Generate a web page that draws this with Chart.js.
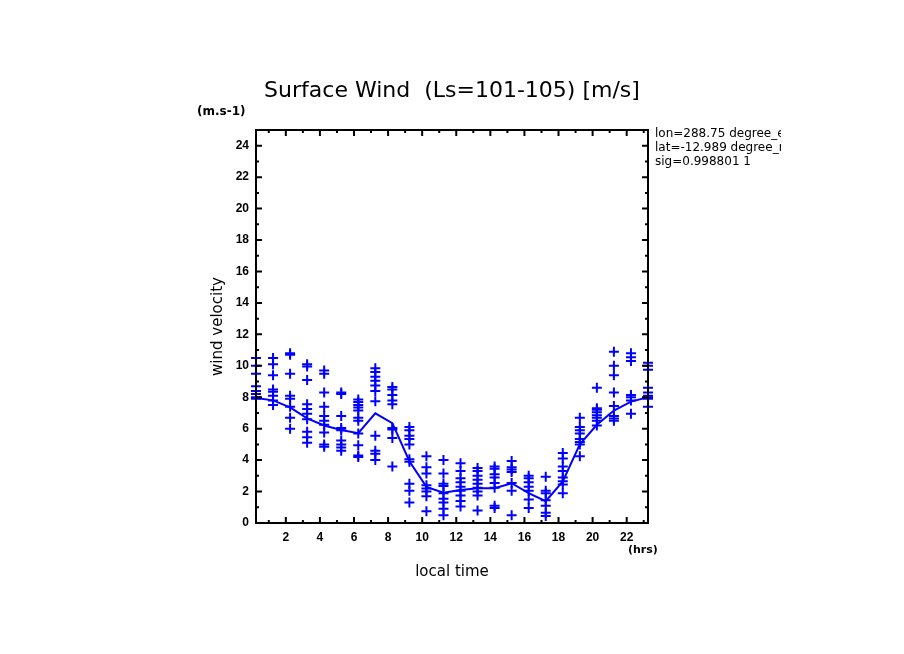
<!DOCTYPE html>
<html>
<head>
<meta charset="utf-8">
<title>Surface Wind</title>
<script src="https://cdn.jsdelivr.net/npm/chart.js@4.4.1/dist/chart.umd.min.js"></script>
<style>
  body { margin: 0; background: #fff; }
  #wrap { position: relative; width: 904px; height: 654px; }
  .nota { position: absolute; font-family: "DejaVu Sans", sans-serif; color: #000; white-space: nowrap; }
</style>
</head>
<body>
<div id="wrap">
  <canvas id="grafico" width="904" height="654"></canvas>
  <div class="nota" style="left:197px;top:104px;font-weight:bold;font-size:12px;">(m.s-1)</div>
  <div class="nota" style="left:628px;top:543px;font-weight:bold;font-size:11px;">(hrs)</div>
  <div class="nota" style="left:655px;top:126px;width:126px;overflow:hidden;font-size:12px;line-height:14px;">lon=288.75 degree_east<br>lat=-12.989 degree_north<br>sig=0.998801 1</div>
</div>
<script>
// Hora local de cada coluna (hrs)
const horas = [0.25, 1.25, 2.25, 3.25, 4.25, 5.25, 6.25, 7.25, 8.25, 9.25, 10.25, 11.25,
               12.25, 13.25, 14.25, 15.25, 16.25, 17.25, 18.25, 19.25, 20.25, 21.25, 22.25, 23.25];

// Curva média (m/s)
const media = [7.96, 7.8, 7.36, 6.66, 6.2, 5.92, 5.71, 6.98, 6.35, 3.93, 2.3, 1.92,
               2.1, 2.21, 2.21, 2.53, 1.9, 1.39, 2.65, 5.0, 6.25, 7.15, 7.72, 8.0];

// Valores individuais de vento por hora (m/s), uma lista por coluna
const ventoPorHora = [
  [10.5, 10.0, 9.5, 8.7, 8.4, 8.2, 8.0, 7.9],
  [10.5, 10.1, 9.4, 8.5, 8.35, 8.1, 7.8, 7.5],
  [10.8, 10.7, 9.5, 8.1, 7.9, 7.4, 6.7, 6.0],
  [10.1, 9.95, 9.1, 7.55, 7.25, 6.95, 6.6, 5.8, 5.45, 5.1],
  [9.7, 9.5, 8.3, 7.4, 6.8, 6.5, 6.25, 5.75, 5.0, 4.85],
  [8.3, 8.2, 6.8, 6.05, 5.9, 5.25, 5.0, 4.8, 4.6],
  [7.85, 7.7, 7.5, 7.35, 7.15, 6.7, 6.5, 5.7, 4.95, 4.3, 4.2],
  [9.85, 9.6, 9.3, 9.05, 8.75, 8.4, 7.75, 5.55, 4.6, 4.4, 4.0],
  [8.65, 8.5, 8.15, 7.8, 7.55, 6.05, 5.95, 5.4, 3.6],
  [6.1, 5.9, 5.55, 5.35, 5.0, 4.05, 3.9, 2.5, 2.05, 1.3],
  [4.25, 3.55, 3.15, 2.4, 2.2, 2.0, 1.7, 0.75],
  [4.0, 3.15, 2.5, 2.35, 1.9, 1.55, 1.3, 0.9, 0.5],
  [3.8, 3.3, 2.85, 2.6, 2.3, 2.05, 1.75, 1.4, 1.05],
  [3.5, 3.3, 3.0, 2.75, 2.5, 2.25, 2.0, 1.75, 0.8],
  [3.6, 3.45, 3.1, 2.9, 2.55, 2.25, 1.1, 0.95],
  [3.95, 3.55, 3.4, 3.25, 2.55, 2.05, 0.5],
  [3.0, 2.85, 2.6, 2.3, 2.05, 1.5, 0.95],
  [2.95, 2.05, 1.9, 1.45, 1.1, 0.65, 0.45],
  [4.45, 4.1, 3.6, 3.3, 2.9, 2.65, 2.45, 1.9],
  [6.7, 6.1, 5.9, 5.7, 5.35, 5.15, 5.0, 4.25],
  [8.6, 7.3, 7.2, 7.05, 6.85, 6.7, 6.5, 6.2],
  [10.9, 10.0, 9.4, 8.3, 7.45, 6.8, 6.65, 6.5],
  [10.8, 10.55, 10.3, 8.15, 8.0, 7.8, 6.95],
  [10.2, 10.0, 9.75, 8.6, 8.3, 8.1, 8.0, 7.9, 7.4]
];

// Marcas dos eixos
const ticksX = [1, 2, 3, 4, 5, 6, 7, 8, 9, 10, 11, 12, 13, 14, 15, 16, 17, 18, 19, 20, 21, 22, 23];
const ticksY = [0, 1, 2, 3, 4, 5, 6, 7, 8, 9, 10, 11, 12, 13, 14, 15, 16, 17, 18, 19, 20, 21, 22, 23, 24, 25];

const azul = '#0000ff';

// Pontos de dispersão a partir das listas por hora
const pontos = [];
ventoPorHora.forEach((lista, i) => {
    lista.forEach(v => pontos.push({ x: horas[i], y: v }));
});

// Moldura fechada com marcas para dentro nos quatro lados
const molduraPlugin = {
    id: 'moldura',
    afterDatasetsDraw(chart) {
        const { ctx, chartArea: a, scales: { x, y } } = chart;
        ctx.save();
        ctx.strokeStyle = '#000';
        ctx.lineWidth = 2;
        ctx.strokeRect(a.left, a.top, a.right - a.left, a.bottom - a.top);
        ctx.beginPath();
        x.ticks.forEach(t => {
            const px = x.getPixelForValue(t.value);
            const len = t.value % 2 === 0 ? 6 : 3;
            ctx.moveTo(px, a.bottom); ctx.lineTo(px, a.bottom - len);
            ctx.moveTo(px, a.top); ctx.lineTo(px, a.top + len);
        });
        y.ticks.forEach(t => {
            const py = y.getPixelForValue(t.value);
            const len = t.value % 2 === 0 ? 6 : 3;
            ctx.moveTo(a.left, py); ctx.lineTo(a.left + len, py);
            ctx.moveTo(a.right, py); ctx.lineTo(a.right - len, py);
        });
        ctx.stroke();
        ctx.restore();
    }
};

const fonteTick = { family: 'Liberation Sans', size: 12, weight: 'bold' };

new Chart(document.getElementById('grafico').getContext('2d'), {
    type: 'scatter',
    data: {
        datasets: [
            {
                label: 'média',
                data: horas.map((h, i) => ({ x: h, y: media[i] })),
                showLine: true,
                borderColor: azul,
                borderWidth: 2,
                pointRadius: 0,
                tension: 0
            },
            {
                label: 'vento',
                data: pontos,
                pointStyle: 'cross',
                pointRadius: 5,
                borderColor: azul,
                borderWidth: 2,
                clip: false
            }
        ]
    },
    options: {
        responsive: false,
        animation: false,
        devicePixelRatio: 1,
        layout: { padding: 0 },
        plugins: {
            legend: { display: false },
            tooltip: { enabled: false },
            title: {
                display: true,
                text: 'Surface Wind  (Ls=101-105) [m/s]',
                color: '#000',
                font: { family: 'DejaVu Sans', size: 22, weight: 'normal', lineHeight: 1.2 },
                padding: { top: 78, bottom: 25.6 }
            }
        },
        scales: {
            x: {
                type: 'linear',
                min: 0.25,
                max: 23.25,
                afterBuildTicks: s => { s.ticks = ticksX.map(v => ({ value: v })); },
                afterFit: s => { s.height = 131; },
                grid: { display: false, drawTicks: false },
                border: { display: false },
                ticks: {
                    autoSkip: false,
                    maxRotation: 0,
                    padding: 7,
                    color: '#000',
                    font: fonteTick,
                    callback: v => (v % 2 === 0 ? String(v) : '')
                },
                title: {
                    display: true,
                    text: 'local time',
                    color: '#000',
                    font: { family: 'DejaVu Sans', size: 15, lineHeight: 1.2 },
                    padding: { top: 0, bottom: 73 }
                }
            },
            y: {
                type: 'linear',
                min: 0,
                max: 25,
                afterBuildTicks: s => { s.ticks = ticksY.map(v => ({ value: v })); },
                afterFit: s => { s.width = 256; },
                grid: { display: false, drawTicks: false },
                border: { display: false },
                ticks: {
                    autoSkip: false,
                    padding: 7,
                    color: '#000',
                    font: fonteTick,
                    callback: v => (v % 2 === 0 && v <= 24 ? String(v) : '')
                },
                title: {
                    display: true,
                    text: 'wind velocity',
                    color: '#000',
                    font: { family: 'DejaVu Sans', size: 15, lineHeight: 1.2 },
                    padding: { top: 209, bottom: 0 }
                }
            },
            // eixo vazio à direita, só para reservar a margem
            direita: {
                type: 'linear',
                position: 'right',
                min: 0,
                max: 25,
                afterFit: s => { s.width = 256; },
                grid: { display: false, drawTicks: false },
                border: { display: false },
                ticks: { display: false }
            }
        }
    },
    plugins: [molduraPlugin]
});
</script>
</body>
</html>
